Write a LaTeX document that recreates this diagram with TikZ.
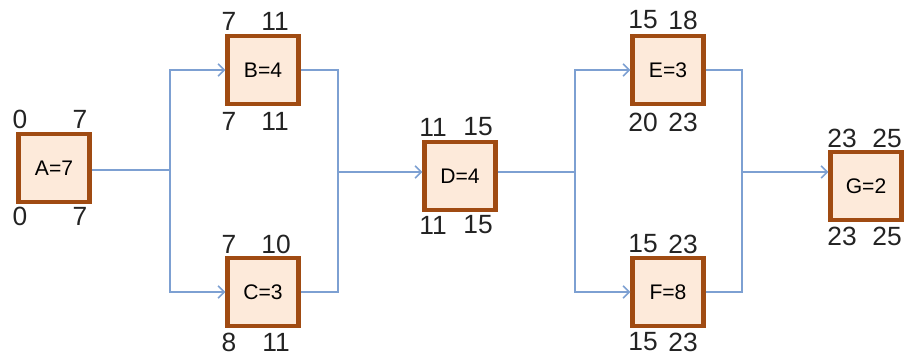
\documentclass[tikz,border=0pt]{standalone}
\usepackage{fontspec}
\setmainfont{Liberation Sans}
\usetikzlibrary{arrows.meta}

\definecolor{netBorder}{RGB}{160,75,18}
\definecolor{netFill}{RGB}{253,234,218}
\definecolor{netLink}{RGB}{125,160,210}
\definecolor{netNum}{RGB}{35,35,35}

\tikzset{
  act/.style={draw=netBorder, line width=2.4pt, fill=netFill, minimum width=1.42cm,
    minimum height=1.36cm, inner sep=0pt, font=\fontsize{12}{14}\selectfont},
  num/.style={netNum, font=\fontsize{15}{17}\selectfont, inner sep=0pt},
  link/.style={netLink, line width=0.9pt},
  arr/.style={link, -{Straight Barb[length=3.5pt,width=7pt]}}
}

\begin{document}
\begin{tikzpicture}[x=0.02cm, y=-0.02cm]
\useasboundingbox (0,0) rectangle (908,354);
%% activity boxes
\node[act] (A) at (54,168) {A=7};
\node[act] (B) at (263,70) {B=4};
\node[act] (C) at (263,292) {C=3};
\node[act] (D) at (460,176) {D=4};
\node[act] (E) at (668,70) {E=3};
\node[act] (F) at (668,292) {F=8};
\node[act] (G) at (866,186) {G=2};
%% branch points
\coordinate (j1) at (170,170);
\coordinate (j2) at (338,172);
\coordinate (j3) at (575,172);
\coordinate (j4) at (742,172);
%% connectors
\draw[link] (A.east |- j1) -- (j1);
\draw[arr] (j1) |- (B.west);
\draw[arr] (j1) |- (C.west);
\draw[link] (B.east) -| (j2);
\draw[link] (C.east) -| (j2);
\draw[arr] (j2) -- (D.west |- j2);
\draw[link] (D.east |- j3) -- (j3);
\draw[arr] (j3) |- (E.west);
\draw[arr] (j3) |- (F.west);
\draw[link] (E.east) -| (j4);
\draw[link] (F.east) -| (j4);
\draw[arr] (j4) -- (G.west |- j4);
%% early / late times
\node[num] (Aes) at (20,119) {0};   \node[num] (Aef) at (80,119) {7};
\node[num] (Als) at (20,216) {0};   \node[num] (Alf) at (80,216) {7};
\node[num] (Bes) at (229,21) {7};   \node[num] (Bef) at (275,21) {11};
\node[num] (Bls) at (229,121) {7};  \node[num] (Blf) at (275,121) {11};
\node[num] (Ces) at (229,244) {7};  \node[num] (Cef) at (276,244) {10};
\node[num] (Cls) at (229,342) {8};  \node[num] (Clf) at (276,342) {11};
\node[num] (Des) at (433,127) {11}; \node[num] (Def) at (478,127) {15};
\node[num] (Dls) at (433,225) {11}; \node[num] (Dlf) at (478,225) {15};
\node[num] (Ees) at (643,20) {15};  \node[num] (Eef) at (683,20) {18};
\node[num] (Els) at (643,122) {20}; \node[num] (Elf) at (683,122) {23};
\node[num] (Fes) at (643,244) {15}; \node[num] (Fef) at (683,244) {23};
\node[num] (Fls) at (643,342) {15}; \node[num] (Flf) at (683,342) {23};
\node[num] (Ges) at (842,138) {23}; \node[num] (Gef) at (887,138) {25};
\node[num] (Gls) at (842,236) {23}; \node[num] (Glf) at (887,236) {25};
\end{tikzpicture}
\end{document}
